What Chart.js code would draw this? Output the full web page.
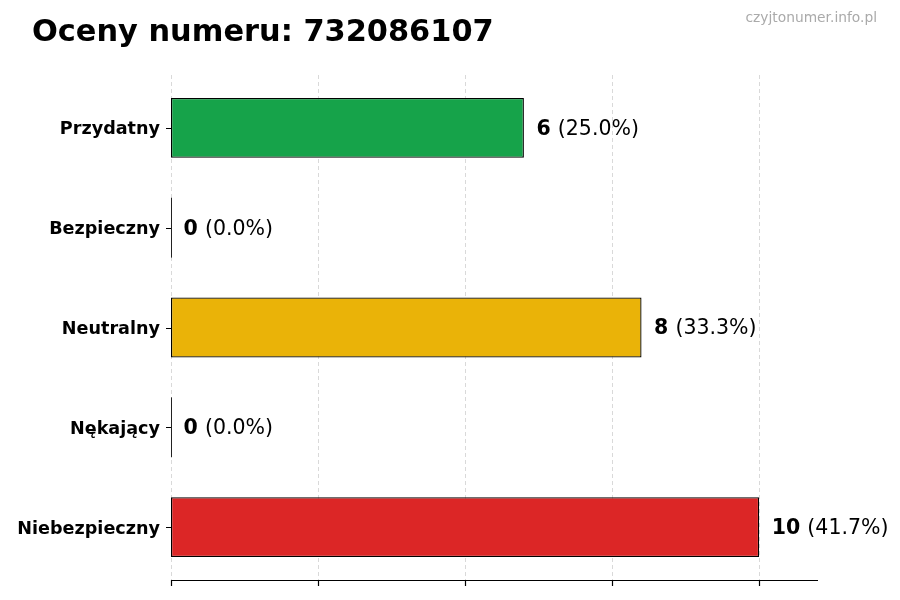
<!DOCTYPE html>
<html>
<head>
<meta charset="utf-8">
<script src="https://cdn.jsdelivr.net/npm/chart.js@4/dist/chart.umd.min.js"></script>
<style>
  html, body { margin: 0; padding: 0; background: #fff; }
  #wrap { width: 900px; height: 600px; position: relative; }
</style>
</head>
<body>
<div id="wrap"><canvas id="ratingChart"></canvas></div>
<script>
const categories = ["Przydatny", "Bezpieczny", "Neutralny", "Nękający", "Niebezpieczny"];
const counts = [6, 0, 8, 0, 10];
const percents = ["25.0%", "0.0%", "33.3%", "0.0%", "41.7%"];
const barColors = ["#16a34a", "#16a34a", "#eab308", "#dc2626", "#dc2626"];
const xTicks = [0, 2.5, 5, 7.5, 10];
const titleText = "Oceny numeru: 732086107";
const siteText = "czyjtonumer.info.pl";

const FONT = "'DejaVu Sans', sans-serif";
const AXIS_Y = 580;

// title, watermark, axis line, tick marks, zero bars and value labels
const decorPlugin = {
  id: "decor",
  beforeDatasetsDraw(chart) {
    // dashed grid lines, full height
    const ctx = chart.ctx;
    const xs = chart.scales.x;
    ctx.save();
    ctx.strokeStyle = "#d9d9d9";
    ctx.lineWidth = 1;
    ctx.setLineDash([4, 3]);
    xTicks.forEach(v => {
      const px = Math.round(xs.getPixelForValue(v)) + 0.5;
      ctx.beginPath();
      ctx.moveTo(px, 75);
      ctx.lineTo(px, AXIS_Y);
      ctx.stroke();
    });
    ctx.restore();
  },
  afterDatasetsDraw(chart) {
    const ctx = chart.ctx;
    const xs = chart.scales.x;
    const ys = chart.scales.y;
    const area = chart.chartArea;
    ctx.save();

    // bottom axis
    ctx.strokeStyle = "#000";
    ctx.lineWidth = 1.2;
    ctx.beginPath();
    ctx.moveTo(area.left, AXIS_Y + 0.5);
    ctx.lineTo(area.right, AXIS_Y + 0.5);
    ctx.stroke();
    xTicks.forEach(v => {
      const px = Math.round(xs.getPixelForValue(v)) + 0.5;
      ctx.beginPath();
      ctx.moveTo(px, AXIS_Y);
      ctx.lineTo(px, AXIS_Y + 6);
      ctx.stroke();
    });

    // y tick marks and category names
    ctx.lineWidth = 1;
    categories.forEach((c, i) => {
      const y = ys.getPixelForValue(i);
      const py = Math.round(y) + 0.5;
      ctx.beginPath();
      ctx.moveTo(area.left - 5, py);
      ctx.lineTo(area.left, py);
      ctx.stroke();
      ctx.fillStyle = "#000";
      ctx.font = "bold 17.6px " + FONT;
      ctx.textAlign = "right";
      ctx.textBaseline = "middle";
      ctx.fillText(c, area.left - 11, y + 2);
    });

    const meta = chart.getDatasetMeta(0);
    meta.data.forEach((bar, i) => {
      const p = bar.getProps(["x", "y", "base", "height"], true);
      if (counts[i] === 0) {
        ctx.strokeStyle = "#222";
        ctx.lineWidth = 1;
        ctx.beginPath();
        ctx.moveTo(p.base + 0.5, p.y - p.height / 2);
        ctx.lineTo(p.base + 0.5, p.y + p.height / 2);
        ctx.stroke();
      }
      const x0 = p.x + 12.5;
      ctx.textBaseline = "middle";
      ctx.textAlign = "left";
      ctx.fillStyle = "#000";
      ctx.font = "bold 20.5px " + FONT;
      const num = String(counts[i]);
      ctx.fillText(num, x0, p.y + 1.5);
      const w = ctx.measureText(num + " ").width;
      ctx.font = "20.5px " + FONT;
      ctx.fillText("(" + percents[i] + ")", x0 + w, p.y + 1.5);
    });

    // title and site name
    ctx.textBaseline = "alphabetic";
    ctx.textAlign = "left";
    ctx.fillStyle = "#000";
    ctx.font = "bold 30.4px " + FONT;
    ctx.fillText(titleText, 32, 41);
    ctx.textAlign = "right";
    ctx.fillStyle = "#aaaaaa";
    ctx.font = "13.8px " + FONT;
    ctx.fillText(siteText, 877, 22);

    ctx.restore();
  }
};

const ctx = document.getElementById("ratingChart");
new Chart(ctx, {
  type: "bar",
  data: {
    labels: categories,
    datasets: [{
      data: counts,
      backgroundColor: barColors,
      borderColor: "#000",
      borderWidth: 1.3,
      borderSkipped: false,
      barPercentage: 0.6,
      categoryPercentage: 1.0
    }]
  },
  options: {
    indexAxis: "y",
    responsive: true,
    maintainAspectRatio: false,
    animation: false,
    layout: { padding: { left: 0, top: 78, right: 82, bottom: 23 } },
    plugins: {
      legend: { display: false },
      tooltip: { enabled: false }
    },
    scales: {
      x: {
        min: 0,
        max: 11,
        afterBuildTicks(scale) {
          scale.ticks = xTicks.map(v => ({ value: v }));
        },
        afterFit(scale) { scale.height = 0; },
        ticks: { display: false },
        border: { display: false },
        grid: { display: false }
      },
      y: {
        afterFit(scale) { scale.width = 171; },
        border: { display: false },
        grid: { display: false },
        ticks: { display: false }
      }
    }
  },
  plugins: [decorPlugin]
});
</script>
</body>
</html>
